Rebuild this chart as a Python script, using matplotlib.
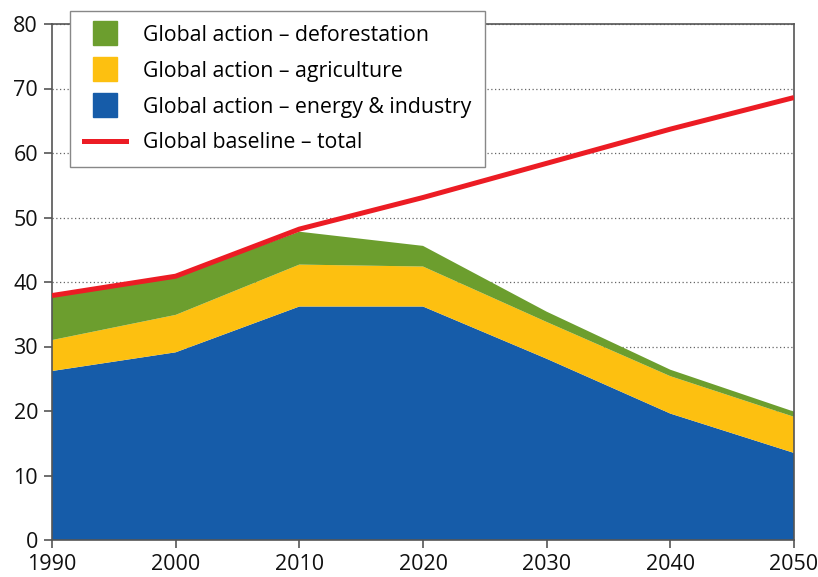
import matplotlib
matplotlib.use("Agg")
import matplotlib.pyplot as plt
from matplotlib.lines import Line2D

years = [1990, 2000, 2010, 2020, 2030, 2040, 2050]
energy = [26.2, 29.1, 36.2, 36.2, 28.1, 19.6, 13.5]
agri_top = [31.0, 34.9, 42.7, 42.4, 33.8, 25.4, 19.1]
defor_top = [37.9, 40.8, 47.8, 45.6, 35.4, 26.4, 19.9]
baseline = [37.9, 40.9, 48.2, 53.1, 58.4, 63.7, 68.6]

agriculture = [a - e for a, e in zip(agri_top, energy)]
deforestation = [d - a for d, a in zip(defor_top, agri_top)]

labels = ["Global action \u2013 deforestation", "Global action \u2013 agriculture",
          "Global action \u2013 energy & industry", "Global baseline \u2013 total"]
c_green, c_yellow, c_blue, c_red = "#6c9e2e", "#fdc010", "#165ca9", "#ec1c24"
spine_col = "#555555"

plt.rcParams['font.family'] = ['Open Sans', 'DejaVu Sans']

fig = plt.figure(figsize=(8.18, 5.77), dpi=100)
ax = fig.add_axes([52 / 818, 1 - 540 / 577, (794 - 52) / 818, (540 - 24) / 577])

ax.stackplot(years, energy, agriculture, deforestation,
             colors=[c_blue, c_yellow, c_green], linewidth=0, zorder=2)
ax.plot(years, baseline, color=c_red, lw=3.6, zorder=3, solid_capstyle='butt')

ax.set_xlim(1990, 2050)
ax.set_ylim(0, 80)
ax.set_xticks(years)
ax.set_yticks(range(0, 81, 10))
ax.yaxis.grid(True, linestyle=(0, (1, 2)), color="#666666", lw=0.9)
ax.set_axisbelow(True)

for s in ax.spines.values():
    s.set_color(spine_col)
    s.set_linewidth(1.2)
ax.tick_params(axis='both', direction='out', length=6, width=1.2, color=spine_col,
               labelsize=15.5, pad=4, labelcolor="#111111")

handles = [
    Line2D([], [], ls='none', marker='s', markersize=17, color=c_green),
    Line2D([], [], ls='none', marker='s', markersize=17, color=c_yellow),
    Line2D([], [], ls='none', marker='s', markersize=17, color=c_blue),
    Line2D([], [], color=c_red, lw=3.6),
]
leg = fig.legend(handles, labels, loc='upper left', bbox_to_anchor=(70 / 818, 1 - 11 / 577),
                 fontsize=15.3, frameon=True, fancybox=False, handlelength=2.0,
                 handletextpad=0.8, labelspacing=0.7, borderpad=0.65, borderaxespad=0)
leg.get_frame().set_edgecolor("#888888")
leg.get_frame().set_linewidth(1.0)
leg.get_frame().set_alpha(1)

fig.savefig("out.png", dpi=100)
